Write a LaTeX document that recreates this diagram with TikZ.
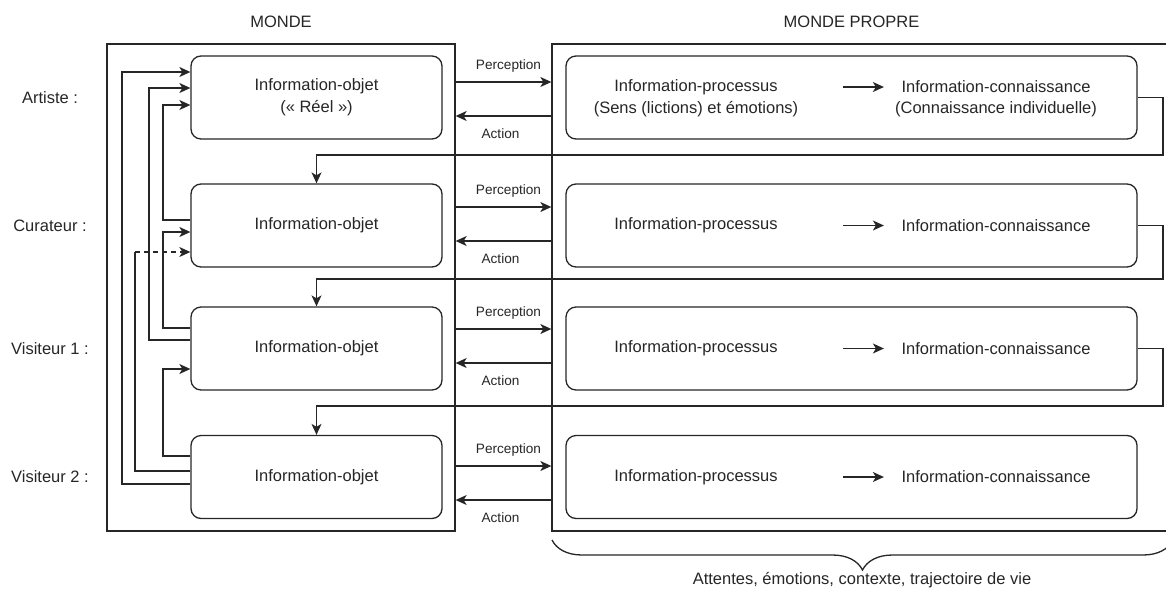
\documentclass[tikz,border=0pt]{standalone}
\usepackage{fontspec}
\setmainfont{Liberation Sans}
\usetikzlibrary{arrows.meta,decorations.pathreplacing}
\begin{document}
\begin{tikzpicture}[x=1pt,y=-1pt,line width=1.3pt,color=black!85,
  font=\fontsize{16.5}{22}\selectfont,
  arr/.style={-{Stealth[length=11pt,width=10pt,inset=3pt]}},
  objet/.style={draw,rounded corners=10pt,minimum width=251pt,minimum height=83pt,align=center},
  interne/.style={draw,rounded corners=10pt,minimum width=571pt,minimum height=83pt},
  petit/.style={font=\fontsize{13.6}{16}\selectfont}]
\useasboundingbox (0,0) rectangle (1166,592);
\node[draw,minimum width=348pt,minimum height=487pt] (monde) at (281,287.5) {};
\node[draw,minimum width=628pt,minimum height=487pt] (propre) at (866,287.5) {};
\node (tmonde) at (281,22) {MONDE};
\node (tpropre) at (851.5,22) {MONDE PROPRE};
\node (artiste) at (50,97.5) {Artiste :};
\node (curateur) at (50,225.5) {Curateur :};
\node (visiteur1) at (50,348.5) {Visiteur 1 :};
\node (visiteur2) at (50,477) {Visiteur 2 :};
\node[objet] (o1) at (316.5,97.5) {Information-objet\\(«~Réel~»)};
\node[objet] (o2) at (316.5,225.5) {Information-objet};
\node[objet] (o3) at (316.5,348.5) {Information-objet};
\node[objet] (o4) at (316.5,477) {Information-objet};
\node[interne] (p1) at (851.5,97.5) {};
\node[interne] (p2) at (851.5,225.5) {};
\node[interne] (p3) at (851.5,348.5) {};
\node[interne] (p4) at (851.5,477) {};
\node[inner sep=0] (proc1) at (696,87) {Information-processus};
\node[inner sep=0] (conn1) at (996,87) {Information-connaissance};
\node (sens) at (696,109) {(Sens (lictions) et émotions)};
\node (indiv) at (996,109) {(Connaissance individuelle)};
\foreach \i/\y in {2/225.5,3/348.5,4/477} {
  \node[inner sep=0] (proc\i) at (696,\y) {Information-processus};
  \node[inner sep=0] (conn\i) at (996,\y) {Information-connaissance};
}
\foreach \i in {1,...,4}
  \draw[arr,shorten <=65pt,shorten >=17pt] (proc\i.east) -- (conn\i.west);
\foreach \i/\yp/\ya in {1/82/116,2/207/241,3/329/363,4/466/500} {
  \draw[arr] (monde.east |- 0,\yp) -- node[petit,above=6pt,xshift=5pt] (perc\i) {Perception} (propre.west |- 0,\yp);
  \draw[arr] (propre.west |- 0,\ya) -- node[petit,below=9pt,xshift=-3pt] (act\i) {Action} (monde.east |- 0,\ya);
}
\draw[arr] (p1.east) -| (1163,155) -| (o2.north);
\draw[arr] (p2.east) -| (1163,279) -| (o3.north);
\draw[arr] (p3.east) -| (1163,406) -| (o4.north);
\draw[arr] (o2.west |- 0,220) -| (163,105) -- (o1.west |- 0,105);
\draw[arr] (o3.west |- 0,328) -| (163,232) -- (o2.west |- 0,232);
\draw[arr] (o4.west |- 0,456) -| (163,369) -- (o3.west |- 0,369);
\draw[arr] (o3.west |- 0,340) -| (149,88) -- (o1.west |- 0,88);
\draw (o4.west |- 0,471) -| (135,252) coordinate (tiret);
\draw[arr,dash pattern=on 5pt off 4pt] (tiret) -- (o2.west |- 0,252);
\draw[arr] (o4.west |- 0,484) -| (122,72) -- (o1.west |- 0,72);
\draw[decorate,decoration={brace,mirror,amplitude=30pt}] (552,540) -- (1173,540);
\node (attentes) at (862,580) {Attentes, émotions, contexte, trajectoire de vie};
\end{tikzpicture}
\end{document}
